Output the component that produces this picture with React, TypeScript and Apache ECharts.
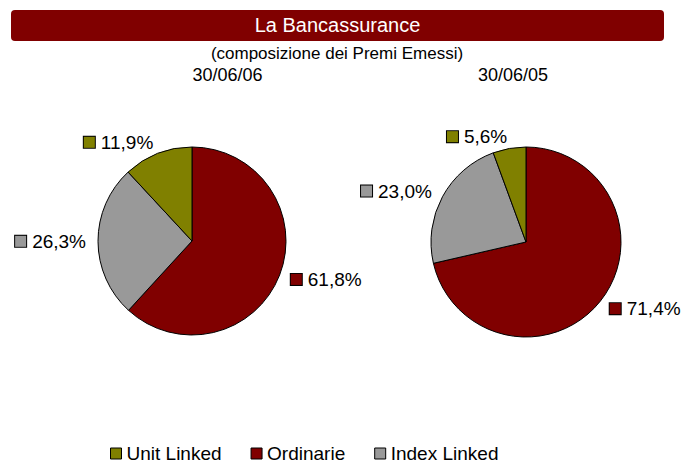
import React, { useEffect, useRef } from 'react';
import * as echarts from 'echarts';

const categories = ['Ordinarie', 'Index Linked', 'Unit Linked'];
const legendOrder = ['Unit Linked', 'Ordinarie', 'Index Linked'];
const values2006 = [61.8, 26.3, 11.9];
const values2005 = [71.4, 23.0, 5.6];
const periods = ['30/06/06', '30/06/05'];
const chartTitle = 'La Bancassurance';
const chartSubtitle = '(composizione dei Premi Emessi)';

const palette: Record<string, string> = {
  'Ordinarie': '#800000',
  'Index Linked': '#999999',
  'Unit Linked': '#808000',
};

const FONT = '"Liberation Sans", Arial, Helvetica, sans-serif';

const fmt = (v: number) => v.toFixed(1).replace('.', ',') + '%';

function makeRich() {
  const rich: Record<string, any> = {
    t: { fontSize: 19, fontFamily: FONT, color: '#000', padding: [0, 0, 0, 6] },
  };
  categories.forEach((c, i) => {
    rich['s' + i] = {
      width: 11,
      height: 11,
      backgroundColor: palette[c],
      borderColor: '#000',
      borderWidth: 1,
    };
  });
  return rich;
}

function pieSeries(name: string, values: number[], center: [number, number], radius: number) {
  return {
    name,
    type: 'pie',
    center,
    radius,
    startAngle: 90,
    clockwise: true,
    avoidLabelOverlap: false,
    data: categories.map((c, i) => ({
      name: c,
      value: values[i],
      itemStyle: { color: palette[c] },
    })),
    itemStyle: { borderColor: '#000', borderWidth: 1 },
    label: {
      show: true,
      position: 'outside',
      distanceToLabelLine: 0,
      formatter: (p: any) => `{s${p.dataIndex}|}{t|${fmt(p.value)}}`,
      rich: makeRich(),
    },
    labelLine: { show: false, length: 12, length2: 0 },
    emphasis: { disabled: true },
  };
}

export default function App() {
  const ref = useRef<HTMLDivElement>(null);
  useEffect(() => {
    if (!ref.current) return;
    const chart = echarts.init(ref.current, undefined, { renderer: 'svg' });
    chart.setOption({
      animation: false,
      backgroundColor: '#ffffff',
      textStyle: { fontFamily: FONT },
      graphic: [
        {
          type: 'rect',
          shape: { x: 11, y: 10, width: 653, height: 31, r: 4 },
          style: { fill: '#800000' },
          silent: true,
        },
        {
          type: 'text',
          style: {
            text: chartTitle,
            x: 337.5,
            y: 25,
            align: 'center',
            verticalAlign: 'middle',
            fill: '#ffffff',
            fontSize: 20,
            fontFamily: FONT,
          },
          silent: true,
        },
        {
          type: 'text',
          style: {
            text: chartSubtitle,
            x: 337,
            y: 53,
            align: 'center',
            verticalAlign: 'middle',
            fill: '#000',
            fontSize: 17,
            fontFamily: FONT,
          },
          silent: true,
        },
        {
          type: 'text',
          style: {
            text: periods[0],
            x: 227.5,
            y: 75,
            align: 'center',
            verticalAlign: 'middle',
            fill: '#000',
            fontSize: 18,
            fontFamily: FONT,
          },
          silent: true,
        },
        {
          type: 'text',
          style: {
            text: periods[1],
            x: 513,
            y: 75,
            align: 'center',
            verticalAlign: 'middle',
            fill: '#000',
            fontSize: 18,
            fontFamily: FONT,
          },
          silent: true,
        },
      ],
      legend: {
        data: legendOrder,
        left: 110,
        top: 444,
        padding: 0,
        orient: 'horizontal',
        icon: 'rect',
        itemWidth: 11,
        itemHeight: 11,
        itemGap: 29,
        itemStyle: { borderColor: '#000', borderWidth: 1 },
        textStyle: { fontSize: 19, lineHeight: 16, fontFamily: FONT, color: '#000' },
        selectedMode: false,
      },
      series: [
        pieSeries(periods[0], values2006, [192, 241], 94),
        pieSeries(periods[1], values2005, [526, 242], 95),
      ],
    });
    return () => chart.dispose();
  }, []);
  return (
    <div
      ref={ref}
      style={{ position: 'absolute', left: 0, top: 0, width: 685, height: 465 }}
    />
  );
}
